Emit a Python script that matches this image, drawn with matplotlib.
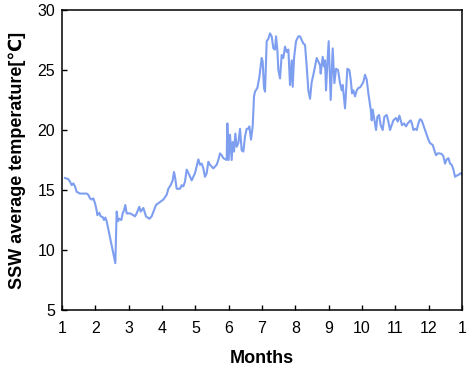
import matplotlib
matplotlib.use("Agg")
import matplotlib.pyplot as plt

plt.rcParams.update({
    "font.family": ["Liberation Sans", "DejaVu Sans"],
    "xtick.direction": "in",
    "ytick.direction": "in",
})

# month position (1 = start of Jan, 13 = start of next Jan) and temperature
months = [
    1.09, 1.19, 1.24, 1.29, 1.34, 1.39, 1.44, 1.54, 1.64, 1.74, 1.79, 1.84, 1.89, 1.94,
    1.99, 2.04, 2.06, 2.12, 2.16, 2.22, 2.26, 2.30, 2.34, 2.60, 2.64, 2.68, 2.72, 2.78,
    2.82, 2.86, 2.90, 2.94, 3.04, 3.14, 3.19, 3.24, 3.32, 3.36, 3.44, 3.52, 3.62, 3.69,
    3.82, 3.94, 4.04, 4.14, 4.19, 4.26, 4.32, 4.36, 4.39, 4.44, 4.54, 4.59, 4.64, 4.69,
    4.74, 4.82, 4.89, 4.99, 5.09, 5.14, 5.19, 5.24, 5.29, 5.34, 5.39, 5.44, 5.54, 5.64,
    5.69, 5.74, 5.79, 5.84, 5.94, 5.96, 6.00, 6.04, 6.09, 6.12, 6.16, 6.20, 6.24, 6.29,
    6.34, 6.39, 6.44, 6.49, 6.54, 6.59, 6.62, 6.67, 6.72, 6.76, 6.79, 6.86, 6.92, 6.99,
    7.02, 7.06, 7.09, 7.14, 7.19, 7.24, 7.29, 7.34, 7.39, 7.42, 7.46, 7.49, 7.54, 7.59,
    7.64, 7.69, 7.74, 7.79, 7.84, 7.89, 7.92, 7.96, 8.02, 8.09, 8.14, 8.19, 8.24, 8.29,
    8.34, 8.39, 8.44, 8.49, 8.54, 8.59, 8.64, 8.69, 8.74, 8.76, 8.82, 8.86, 8.89, 8.92,
    8.96, 9.00, 9.06, 9.12, 9.17, 9.22, 9.28, 9.34, 9.39, 9.42, 9.49, 9.56, 9.62, 9.66,
    9.70, 9.74, 9.79, 9.84, 9.89, 9.94, 9.99, 10.04, 10.09, 10.14, 10.19, 10.26, 10.29,
    10.32, 10.36, 10.42, 10.46, 10.51, 10.56, 10.62, 10.67, 10.74, 10.79, 10.84, 10.89,
    10.94, 11.02, 11.07, 11.12, 11.16, 11.20, 11.26, 11.32, 11.37, 11.42, 11.46, 11.50,
    11.54, 11.59, 11.64, 11.69, 11.74, 11.79, 11.84, 11.89, 11.94, 11.99, 12.04, 12.12,
    12.17, 12.22, 12.27, 12.32, 12.39, 12.44, 12.49, 12.54, 12.59, 12.64, 12.69, 12.74,
    12.79, 12.84, 12.89, 12.96, 13.00,
]
temps = [
    16.0, 15.9, 15.7, 15.4, 15.55, 15.3, 14.85, 14.7, 14.7, 14.7, 14.6, 14.3, 14.2, 14.3,
    13.9, 13.3, 12.9, 13.1, 12.8, 12.75, 12.5, 12.7, 12.4, 8.9, 13.2, 12.4, 12.6, 12.5,
    13.05, 13.3, 13.75, 13.05, 13.05, 12.9, 12.8, 13.05, 13.6, 13.2, 13.5, 12.8, 12.6, 12.8,
    13.75, 14.0, 14.2, 14.6, 15.1, 15.4, 15.8, 16.5, 16.1, 15.1, 15.1, 15.4, 15.3, 15.7,
    16.7, 16.25, 15.8, 16.4, 17.55, 17.1, 17.2, 16.8, 16.1, 16.4, 17.35, 17.1, 16.8, 17.1,
    17.5, 18.05, 17.9, 17.65, 17.5, 20.55, 17.5, 19.6, 17.5, 19.0, 18.2, 19.7, 18.6, 18.9,
    20.1, 18.3, 18.2, 19.45, 20.1, 20.1, 20.3, 19.2, 20.3, 22.8, 23.2, 23.5, 24.4, 26.0,
    25.7, 23.5, 23.2, 27.4, 27.6, 28.05, 27.8, 26.8, 26.7, 27.8, 26.7, 25.0, 24.3, 26.25,
    26.0, 26.95, 26.5, 26.7, 23.75, 25.8, 23.6, 26.0, 27.4, 27.8, 27.8, 27.5, 27.2, 27.1,
    25.3, 23.3, 22.6, 24.0, 24.6, 25.3, 26.0, 25.7, 25.4, 24.7, 26.1, 25.3, 25.8, 23.3,
    25.55, 27.4, 22.5, 26.8, 23.9, 25.1, 25.0, 23.9, 23.3, 23.75, 21.8, 25.1, 25.0, 24.2,
    23.05, 23.3, 22.8, 23.3, 23.5, 23.55, 23.75, 24.0, 24.6, 24.2, 23.05, 21.7, 20.8,
    21.7, 21.0, 20.0, 21.1, 21.25, 20.4, 20.0, 21.1, 21.25, 20.7, 20.0, 20.4,
    20.8, 21.0, 20.7, 21.2, 20.8, 20.4, 20.55, 20.3, 20.55, 20.7, 20.8, 20.5,
    20.0, 20.1, 20.0, 20.55, 20.9, 20.8, 20.4, 20.0, 19.6, 19.2, 18.9, 18.75,
    18.3, 17.9, 18.05, 18.05, 18.0, 17.8, 17.2, 17.55, 17.65, 17.2, 17.1, 16.7,
    16.1, 16.2, 16.25, 16.4, 16.3,
]

tick_pos = list(range(1, 14))
tick_labels = [str(i) for i in range(1, 13)] + ["1"]

fig = plt.figure(figsize=(4.71, 3.73), dpi=100)
ax = fig.add_axes([0.1316, 0.169, 0.8494, 0.8042])

ax.plot(months, temps, color="#7e9ef0", linewidth=1.5)

ax.set_xlim(1, 13)
ax.set_ylim(5, 30)
ax.set_xticks(tick_pos)
ax.set_xticklabels(tick_labels)
ax.set_yticks([5, 10, 15, 20, 25, 30])
ax.tick_params(axis="x", length=3.5, width=1, labelsize=11.5, pad=8)
ax.tick_params(axis="y", length=3.5, width=1, labelsize=11.5, pad=5)
for sp in ax.spines.values():
    sp.set_linewidth(1.1)

ax.set_xlabel("Months", fontsize=13, fontweight="bold", labelpad=10)
ax.set_ylabel("SSW average temperature[℃]", fontsize=13, fontweight="bold", labelpad=8)

fig.savefig("out.png", dpi=100)
